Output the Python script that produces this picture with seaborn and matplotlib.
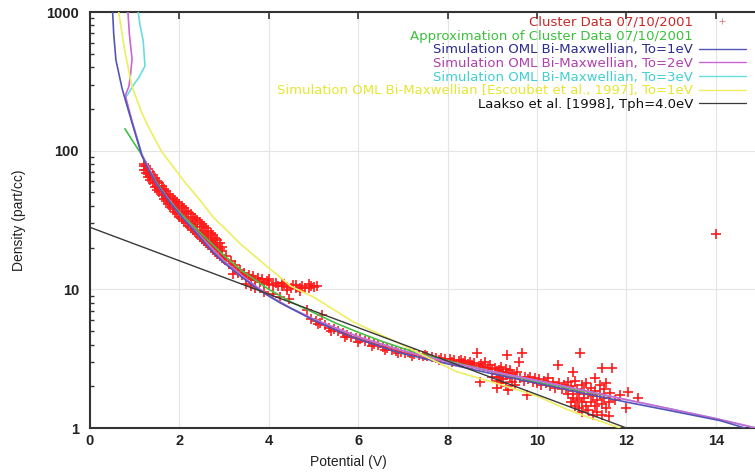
import matplotlib
matplotlib.use("Agg")
import matplotlib.pyplot as plt
import seaborn as sns
import pandas as pd
from matplotlib.lines import Line2D
from matplotlib.ticker import FixedLocator, FixedFormatter, NullFormatter

# ---------------- data ----------------
# dense band of cluster measurements (1.2 V - 2.95 V)
band_x = [1.20, 1.25, 1.30, 1.35, 1.40, 1.45, 1.50, 1.55, 1.60, 1.65, 1.70, 1.75,
          1.80, 1.85, 1.90, 1.95, 2.00, 2.05, 2.10, 2.15, 2.20, 2.25, 2.30, 2.35,
          2.40, 2.45, 2.50, 2.55, 2.60, 2.65, 2.70, 2.75, 2.80, 2.85, 2.90, 2.95]
band_lo = [73, 69, 65, 61.5, 58, 55, 52, 50, 47.5, 45, 43, 41.5,
           39.5, 38, 36.3, 35, 33.5, 32.3, 31, 30, 28.8, 27.8, 26.8, 25.8,
           24.9, 24, 23.2, 22.4, 21.6, 20.9, 20.1, 19.4, 18.7, 18.0, 17.4, 16.9]
band_mid = [77, 73, 69, 65.5, 62, 59, 56, 53.5, 51, 48.5, 46.5, 44.5,
            42.5, 40.7, 39, 37.5, 36, 34.7, 33.5, 32.2, 31, 30, 29, 28,
            27, 26.2, 25.3, 24.5, 23.7, 23, 22.2, 21.5, 20.8, 20.1, 19.5, 19]
band_hi = [80, 77, 73.5, 70, 66.5, 63.5, 60.5, 58, 55.5, 53, 51, 49,
           47, 45.5, 44, 42.5, 41, 40, 38.5, 37, 36, 35, 33.5, 32.5,
           31.5, 30.5, 29.5, 28.5, 27.5, 26.5, 25.5, 24.5, 23.5, 22.5, 21.5, 20.3]

# plateau near 10 part/cc (3 V - 5.2 V)
plat_x = [3.0, 3.1, 3.2, 3.3, 3.4, 3.5, 3.6, 3.7, 3.8, 3.9, 4.0, 4.1, 4.2, 4.3,
          4.4, 4.5, 4.6, 4.7, 4.8, 4.9, 5.0, 5.08, 4.0, 4.3, 4.6, 4.9, 4.4, 4.7,
          4.1, 4.25, 4.45, 4.85, 5.19, 3.2, 3.5, 3.7, 3.9, 3.6,
          3.05, 3.15, 3.25, 3.35, 3.45, 3.55, 3.65, 3.75, 3.85, 3.95, 4.15, 4.35,
          4.55, 4.75, 4.95]
plat_y = [16.5, 15.3, 14.2, 13.2, 12.6, 12.2, 11.9, 11.6, 11.3, 11.1, 10.9, 10.7, 10.6, 10.5,
          10.4, 10.3, 10.3, 10.2, 10.2, 10.3, 10.4, 10.5, 11.8, 11.2, 10.8, 10.9, 9.9, 9.7,
          9.3, 8.8, 8.5, 7.06, 6.5, 13.0, 11.0, 10.2, 9.5, 10.5,
          17.3, 16.0, 14.9, 13.8, 13.1, 12.7, 12.4, 12.1, 11.8, 11.5, 11.2, 10.9,
          10.7, 10.6, 10.6]

# main decay (5 V - 8.3 V)
main_x = [4.95, 5.05, 5.15, 5.25, 5.35, 5.45, 5.55, 5.65, 5.75, 5.85, 5.95, 6.05,
          6.15, 6.25, 6.35, 6.45, 6.55, 6.65, 6.75, 6.85, 6.95, 7.05, 7.15, 7.25,
          7.35, 7.45, 7.55, 7.65, 7.75, 7.85, 7.95, 8.05, 8.15, 8.25,
          5.1, 5.4, 5.7, 6.0, 6.3, 6.6, 6.9, 7.2, 7.5, 7.8, 8.1]
main_y = [6.1, 5.9, 5.7, 5.5, 5.3, 5.15, 5.0, 4.85, 4.7, 4.55, 4.45, 4.35,
          4.25, 4.15, 4.05, 3.95, 3.85, 3.75, 3.65, 3.6, 3.55, 3.5, 3.45, 3.4,
          3.35, 3.3, 3.28, 3.25, 3.22, 3.18, 3.15, 3.12, 3.1, 3.05,
          5.6, 5.0, 4.55, 4.2, 3.9, 3.65, 3.45, 3.3, 3.38, 3.1, 2.98]

# scattered cloud (8.3 V - 12.3 V) and outlier
cloud_x = [8.3, 8.35, 8.4, 8.45, 8.5, 8.55, 8.6, 8.65, 8.7, 8.72, 8.75, 8.8, 8.84, 8.9,
           8.95, 9.0, 9.0, 9.05, 9.1, 9.1, 9.1, 9.15, 9.15, 9.2, 9.2, 9.2, 9.25, 9.25,
           9.3, 9.3, 9.3, 9.32, 9.35, 9.35, 9.4, 9.4, 9.45, 9.45, 9.5, 9.5, 9.55, 9.6,
           9.62, 9.66, 9.7, 9.73, 9.77, 9.8, 9.85, 9.9, 9.95, 10.0, 10.05, 10.1, 10.15,
           10.2, 10.25, 10.3, 10.35, 10.4, 10.48, 10.5, 10.55, 10.6, 10.81, 10.96,
           10.65, 10.7, 10.7, 10.75, 10.75, 10.8, 10.8, 10.85, 10.85, 10.9, 10.9, 10.95,
           10.95, 11.0, 11.0, 11.0, 11.05, 11.05, 11.1, 11.1, 11.15, 11.15, 11.2, 11.2,
           11.25, 11.25, 11.3, 11.3, 11.3, 11.35, 11.35, 11.4, 11.4, 11.45, 11.45, 11.45,
           11.5, 11.5, 11.55, 11.55, 11.6, 11.6, 11.63, 11.67, 11.86, 12.04, 12.27,
           12.0, 11.75, 14.0]
cloud_y = [3.1, 2.95, 3.05, 2.9, 3.0, 2.85, 2.95, 3.45, 2.8, 2.15, 2.9, 2.75, 3.0, 2.7,
           2.85, 2.65, 2.35, 2.7, 2.5, 2.2, 1.93, 2.6, 2.35, 2.75, 2.45, 2.1, 2.55, 2.25,
           2.65, 2.4, 2.0, 3.35, 1.88, 2.5, 2.3, 2.6, 2.15, 2.45, 2.35, 2.05, 2.55, 3.0,
           2.3, 3.45, 2.2, 2.35, 1.73, 2.25, 2.35, 2.15, 2.3, 2.1, 2.25, 2.05, 2.2,
           2.1, 2.3, 2.0, 2.15, 1.95, 2.84, 2.1, 1.9, 2.05, 2.54, 3.45,
           1.95, 2.15, 1.75, 1.55, 2.0, 1.85, 1.65, 2.2, 1.45, 1.9, 1.6, 1.75,
           1.4, 2.05, 1.55, 1.3, 1.85, 1.65, 1.45, 2.1, 1.75, 1.35, 1.95, 1.55,
           1.25, 1.7, 2.3, 1.85, 1.45, 1.6, 1.3, 2.05, 1.75, 2.69, 1.5, 1.25,
           1.9, 1.65, 1.4, 2.1, 1.55, 1.22, 1.8, 2.69, 1.73, 1.83, 1.64,
           1.39, 1.6, 25.0]

# curves
approx_x = [0.78, 0.95, 1.16, 1.4, 1.7, 2.0, 2.5, 3.0, 3.4, 4.0, 4.5, 5.0, 5.5,
            6.0, 6.5, 7.0, 7.5, 8.0, 9.0, 10.0, 11.0, 11.6]
approx_y = [144, 118, 93, 65, 47, 36, 25, 17.5, 13.6, 10.0, 8.1, 6.8, 5.7,
            4.9, 4.25, 3.75, 3.35, 3.05, 2.55, 2.15, 1.85, 1.7]

sim1_x = [0.50, 0.53, 0.58, 0.72, 0.94, 1.16, 1.3, 1.5, 1.8, 2.1, 2.4, 2.75, 3.0, 3.4, 3.8,
          4.25, 5.0, 5.8, 6.9, 7.6, 9.1, 10.0, 10.96, 12.08, 13.0, 14.1, 14.65]
sim1_y = [1100, 700, 450, 279, 159, 92, 74, 57, 42, 32, 25, 18.5, 15.5, 12.2, 9.8,
          8.0, 6.0, 4.6, 3.5, 3.1, 2.42, 2.1, 1.8, 1.52, 1.33, 1.13, 1.0]

sim2_x = [0.84, 0.88, 0.94, 0.91, 0.87, 0.79, 0.94, 1.16, 1.5, 2.0, 2.5, 3.0, 3.5, 4.0,
          4.5, 5.0, 6.0, 7.0, 8.0, 9.0, 10.0, 11.0, 12.0, 13.0, 14.0, 14.9]
sim2_y = [1100, 700, 459, 360, 290, 250, 163, 94, 57, 35, 23.5, 16, 11.8, 9.0,
          7.3, 6.1, 4.55, 3.6, 3.0, 2.55, 2.2, 1.88, 1.6, 1.37, 1.17, 1.0]

sim3_x = [1.06, 1.12, 1.19, 1.23, 1.10, 0.96, 0.85, 0.78, 0.94, 1.16, 1.5, 2.0, 2.5,
          3.0, 3.5, 4.0, 4.5, 5.0, 6.0, 7.0, 8.0, 9.0, 10.0, 11.0, 12.0, 13.0, 14.0, 14.9]
sim3_y = [1100, 800, 620, 408, 340, 293, 256, 240, 163, 94, 57, 35, 23.5,
          16, 11.8, 9.0, 7.3, 6.1, 4.55, 3.6, 3.0, 2.55, 2.2, 1.88, 1.6, 1.37, 1.17, 1.0]

escoubat_x = [0.62, 0.78, 0.94, 1.15, 1.3, 1.6, 2.09, 2.46, 2.76, 3.13, 3.36, 4.03, 4.5,
              5.0, 5.9, 6.9, 8.2, 9.2, 10.0, 10.7, 11.3, 11.86]
escoubat_y = [1100, 520, 290, 190, 150, 99, 61, 44, 33, 25.3, 21.3, 14, 10.5,
              8.8, 5.8, 4.1, 2.55, 2.05, 1.7, 1.35, 1.15, 1.0]

laakso_x = [0.0, 12.0]
laakso_y = [28.0, 1.0]

labels = ["Cluster Data 07/10/2001",
          "Approximation of Cluster Data 07/10/2001",
          "Simulation OML Bi-Maxwellian, To=1eV",
          "Simulation OML Bi-Maxwellian, To=2eV",
          "Simulation OML Bi-Maxwellian, To=3eV",
          "Simulation OML Bi-Maxwellian [Escoubet et al., 1997], To=1eV",
          "Laakso et al. [1998], Tph=4.0eV"]
x_ticks = [0, 2, 4, 6, 8, 10, 12, 14]
y_ticks = [1, 10, 100, 1000]
y_ticklabels = ["1", "10", "100", "1000"]

# ---------------- styling ----------------
sns.set_theme(style="white")
plt.rcParams['font.family'] = ['Liberation Sans', 'DejaVu Sans']

c_red = "#ff1a1a"
c_green = "#44c044"
c_blue = "#5555b8"
c_mag = "#cc66d6"
c_cyan = "#66dede"
c_yel = "#eeee60"
c_blk = "#3a3a3a"
text_cols = ["#c82828", "#3cc03c", "#2a2a90", "#b040b0", "#40d0d0", "#e6e630", "#111111"]

fig = plt.figure(figsize=(7.55, 4.73), dpi=100)
ax = fig.add_axes([90 / 755, 1 - 428 / 473, 670.5 / 755, 416 / 473])

cluster = pd.DataFrame({
    "x": band_x + band_x + band_x + plat_x + main_x + cloud_x,
    "y": band_lo + band_mid + band_hi + plat_y + main_y + cloud_y,
})
sns.scatterplot(data=cluster, x="x", y="y", marker="+", color=c_red, s=45,
                linewidth=1.2, ax=ax, zorder=2, legend=False)

def curve(xs, ys, color, z, lw=1.2):
    sns.lineplot(x=xs, y=ys, sort=False, estimator=None, color=color, lw=lw,
                 ax=ax, zorder=z, legend=False)

curve(approx_x, approx_y, c_green, 3)
curve(sim3_x, sim3_y, c_cyan, 4)
curve(sim2_x, sim2_y, c_mag, 5)
curve(sim1_x, sim1_y, c_blue, 6)
curve(escoubat_x, escoubat_y, c_yel, 7)
curve(laakso_x, laakso_y, c_blk, 8, lw=1.0)

ax.set_yscale("log")
ax.set_xlim(0, 15)
ax.set_ylim(1, 1000)

ax.xaxis.set_major_locator(FixedLocator(x_ticks))
ax.set_xticklabels([str(t) for t in x_ticks])
ax.yaxis.set_major_locator(FixedLocator(y_ticks))
ax.yaxis.set_major_formatter(FixedFormatter(y_ticklabels))
minor = [m * 10 ** e for e in range(0, 3) for m in range(2, 10)]
ax.yaxis.set_minor_locator(FixedLocator(minor))
ax.yaxis.set_minor_formatter(NullFormatter())

ax.tick_params(axis="both", which="major", direction="in", length=5, width=1.2,
               color="#333333", labelsize=10.5, top=True, right=False)
ax.tick_params(axis="y", which="minor", direction="in", length=3, width=1.0,
               color="#333333", left=True, right=False)
ax.tick_params(axis="x", which="major", pad=4)
ax.tick_params(axis="y", which="major", pad=8)
for lab in ax.get_xticklabels() + ax.get_yticklabels():
    lab.set_fontweight("bold")
    lab.set_color("#222222")

ax.grid(True, which="major", color="#e4e4e4", lw=0.8)
for sp in ax.spines.values():
    sp.set_color("#333333")
    sp.set_linewidth(1.5)

ax.set_xlabel("Potential (V)", fontsize=10, color="#222222")
ax.set_ylabel("Density (part/cc)", fontsize=10, color="#222222")
ax.xaxis.set_label_coords((348 - 90) / 670.5, (428 - 455) / 416)
ax.yaxis.set_label_coords((26 - 90) / 670.5, 0.5)

handles = [
    Line2D([], [], color="#d08080", marker="+", linestyle="none", markersize=4, markeredgewidth=0.6),
    Line2D([], [], color="none"),
    Line2D([], [], color=c_blue, lw=1.0),
    Line2D([], [], color=c_mag, lw=1.0),
    Line2D([], [], color=c_cyan, lw=1.0),
    Line2D([], [], color=c_yel, lw=1.0),
    Line2D([], [], color=c_blk, lw=0.9),
]
leg = ax.legend(handles, labels, loc="upper right", markerfirst=False, frameon=False,
                bbox_to_anchor=(746 / 755, 1 - 16 / 473), bbox_transform=fig.transFigure,
                prop={"family": "DejaVu Sans", "size": 9.5},
                handlelength=3.6, handletextpad=0.4, labelspacing=0.05,
                borderpad=0, borderaxespad=0, labelcolor=text_cols)

fig.savefig("out.png", dpi=100)
